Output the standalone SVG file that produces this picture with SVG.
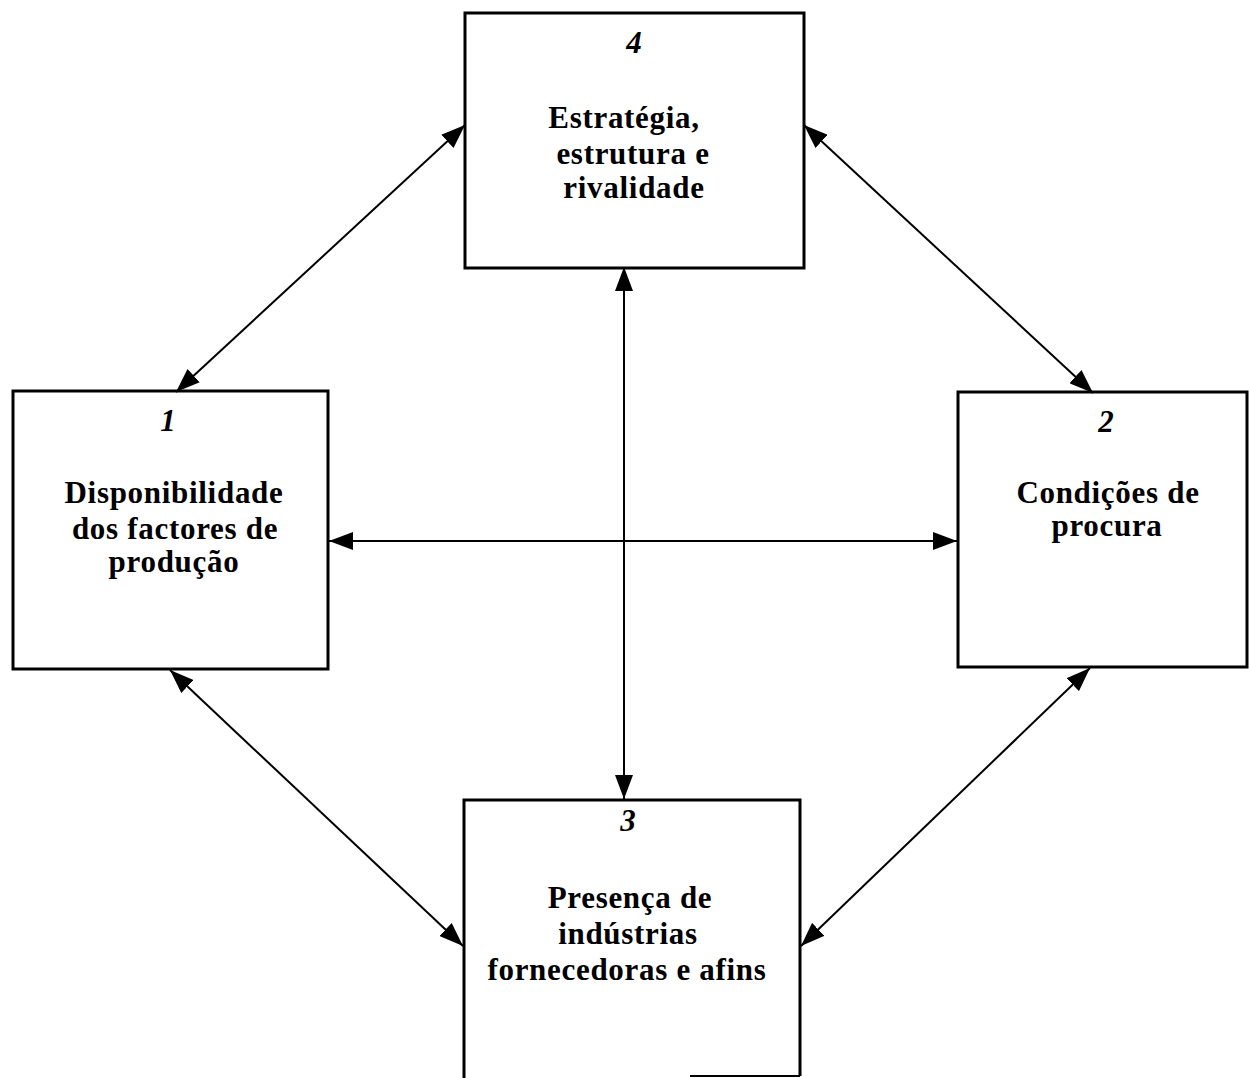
<svg xmlns="http://www.w3.org/2000/svg" width="1249" height="1078" viewBox="0 0 1249 1078">
  <style>
    .box { fill: #ffffff; stroke: #000000; stroke-width: 3; }
    .edge { fill: none; stroke: #000000; stroke-width: 3; }
    .num { font-family: "Liberation Serif", "Times New Roman", serif; font-size: 31px; font-weight: bold; font-style: italic; fill: #000; text-anchor: middle; }
    .lbl { font-family: "Liberation Serif", "Times New Roman", serif; font-size: 31px; font-weight: bold; fill: #000; text-anchor: middle; letter-spacing: 0.7px; }
    .link { fill: none; stroke: #000000; stroke-width: 2; marker-start: url(#head); marker-end: url(#head); }
  </style>
  <defs>
    <marker id="head" viewBox="0 0 24 18" refX="24" refY="9" markerWidth="24" markerHeight="18" markerUnits="userSpaceOnUse" orient="auto-start-reverse">
      <path d="M0,0 L24,9 L0,18 Z" fill="#000000"/>
    </marker>
  </defs>
  <rect width="1249" height="1078" fill="#ffffff"/>

  <!-- 4: strategy, structure and rivalry -->
  <g id="node-4">
    <rect class="box" x="465" y="13" width="339" height="255"/>
    <text class="num" x="634" y="53">4</text>
    <text class="lbl" x="624" y="128">Estratégia,</text>
    <text class="lbl" x="633" y="164">estrutura e</text>
    <text class="lbl" x="634" y="198">rivalidade</text>
  </g>

  <!-- 1: factor conditions -->
  <g id="node-1">
    <rect class="box" x="13" y="391" width="315" height="278"/>
    <text class="num" x="168" y="431">1</text>
    <text class="lbl" x="174" y="503">Disponibilidade</text>
    <text class="lbl" x="175" y="539">dos factores de</text>
    <text class="lbl" x="174" y="572">produção</text>
  </g>

  <!-- 2: demand conditions -->
  <g id="node-2">
    <rect class="box" x="958" y="392" width="289" height="275"/>
    <text class="num" x="1106" y="432">2</text>
    <text class="lbl" x="1108" y="503">Condições de</text>
    <text class="lbl" x="1107" y="536">procura</text>
  </g>

  <!-- 3: related and supporting industries (box runs off the bottom) -->
  <g id="node-3">
    <rect x="464" y="800" width="336" height="278" fill="#ffffff"/>
    <path class="edge" d="M464,1078 L464,800 L800,800 L800,1076"/>
    <path d="M690,1076 L800,1076" fill="none" stroke="#000" stroke-width="2"/>
    <text class="num" x="628" y="831">3</text>
    <text class="lbl" x="630" y="908">Presença de</text>
    <text class="lbl" x="628" y="944">indústrias</text>
    <text class="lbl" x="627" y="980">fornecedoras e afins</text>
  </g>

  <!-- two-way links between the determinants -->
  <g id="connectors">
    <line class="link" x1="176" y1="392" x2="465" y2="125"/>
    <line class="link" x1="804" y1="125" x2="1093" y2="393"/>
    <line class="link" x1="170" y1="670" x2="463" y2="946"/>
    <line class="link" x1="1090" y1="668" x2="801" y2="946"/>
    <line class="link" x1="624" y1="267" x2="624" y2="799"/>
    <line class="link" x1="329" y1="541" x2="957" y2="541"/>
  </g>
</svg>
